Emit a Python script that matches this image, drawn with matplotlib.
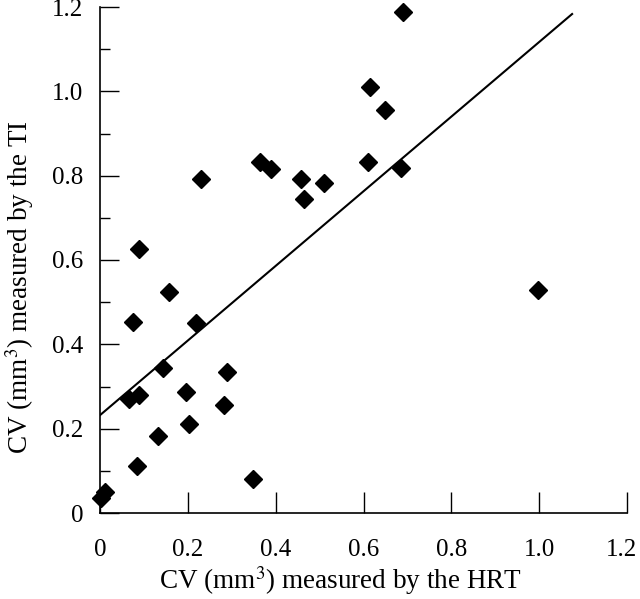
import matplotlib.pyplot as plt
import matplotlib.transforms as mtransforms
import numpy as np
from matplotlib.ticker import MultipleLocator, FixedFormatter, FixedLocator

plt.rcParams['font.family'] = ['Liberation Serif', 'DejaVu Serif']
plt.rcParams['mathtext.fontset'] = 'stix'

# CV measured by HRT (x) and by TI (y)
cv_hrt = [0.002, 0.011, 0.066, 0.075, 0.084, 0.089, 0.089, 0.132, 0.143, 0.157,
          0.196, 0.203, 0.219, 0.230, 0.282, 0.289, 0.348, 0.364, 0.390, 0.458,
          0.465, 0.510, 0.610, 0.615, 0.649, 0.686, 0.690, 0.998]
cv_ti = [0.036, 0.050, 0.270, 0.453, 0.111, 0.280, 0.626, 0.183, 0.344, 0.524,
         0.287, 0.211, 0.451, 0.792, 0.256, 0.334, 0.081, 0.832, 0.816, 0.792,
         0.745, 0.783, 0.832, 1.010, 0.956, 0.817, 1.187, 0.529]

# regression line
fit_x = [0.0, 1.075]
fit_intercept = 0.232
fit_slope = 0.885

tick_vals = [0, 0.2, 0.4, 0.6, 0.8, 1.0, 1.2]
tick_labels = ['0', '0.2', '0.4', '0.6', '0.8', '1.0', '1.2']

fig = plt.figure(figsize=(6.4, 5.99), dpi=100)
ax = fig.add_axes([100/640, 1 - 513/599, 527/640, 506/599])

fx = np.array(fit_x)
ax.plot(fx, fit_intercept + fit_slope * fx, color='black', linewidth=1.5)
ax.plot(cv_hrt, cv_ti, linestyle='none', marker='D', markersize=9.5,
        color='black', clip_on=False)

ax.set_xlim(0, 1.2)
ax.set_ylim(0, 1.2)
ax.spines['top'].set_visible(False)
ax.spines['right'].set_visible(False)
ax.spines['left'].set_linewidth(1.2)
ax.spines['bottom'].set_linewidth(1.2)

ax.xaxis.set_major_locator(FixedLocator(tick_vals))
ax.xaxis.set_major_formatter(FixedFormatter(tick_labels))
ax.yaxis.set_major_locator(FixedLocator(tick_vals))
ax.yaxis.set_major_formatter(FixedFormatter(tick_labels))
ax.yaxis.set_minor_locator(MultipleLocator(0.1))

ax.tick_params(axis='x', direction='in', length=15, width=1.0, pad=19, labelsize=18)
ax.tick_params(axis='y', which='major', direction='in', length=14, width=1.0, pad=12, labelsize=18)
ax.tick_params(axis='y', which='minor', direction='in', length=7, width=1.0)

# last x tick label sits right at the figure edge; nudge it in a little
last = ax.get_xticklabels()[-1]
last.set_transform(last.get_transform() + mtransforms.ScaledTranslation(-4/72, 0, fig.dpi_scale_trans))

ax.set_xlabel('CV (mm$^3$) measured by the HRT', fontsize=19.5, va='center')
ax.set_ylabel('CV (mm$^3$) measured by the TI', fontsize=19.5, va='center')
ax.xaxis.set_label_coords((340 - 100) / 527, (513 - 581) / 506)
ax.yaxis.set_label_coords((20 - 100) / 527, (513 - 287) / 506)

fig.savefig('out.png', dpi=100)
